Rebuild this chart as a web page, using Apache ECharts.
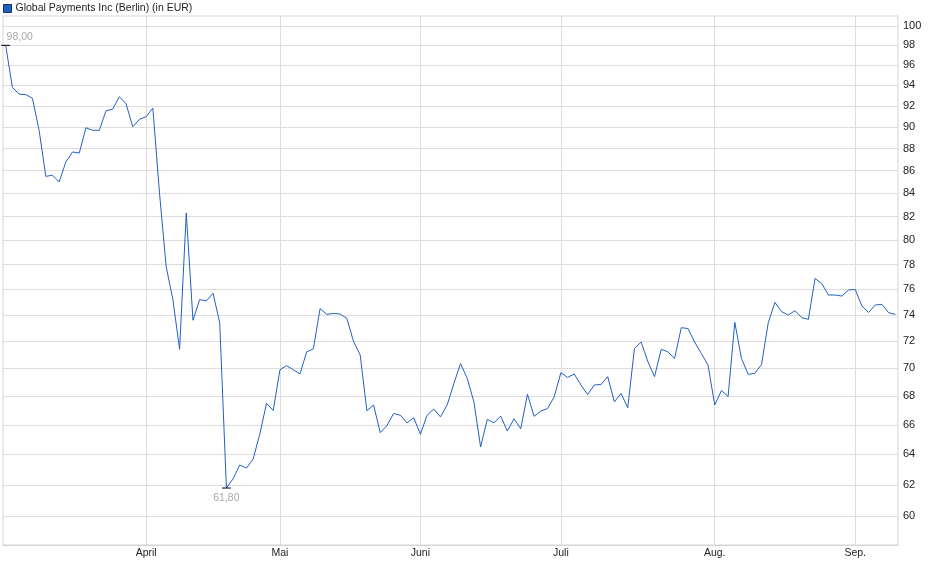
<!DOCTYPE html>
<html>
<head>
<meta charset="utf-8">
<script src="https://cdn.jsdelivr.net/npm/echarts@6/dist/echarts.min.js"></script>
<style>
    html, body { margin: 0; padding: 0; background: #fff; }
    #chart { width: 940px; height: 579px; }
</style>
</head>
<body>
<div id="chart"></div>
<script>
var seriesName = 'Global Payments Inc (Berlin) (in EUR)';

// daily closes, one per trading day (3 Mar .. 9 Sep)
var prices = [
    98.00, 93.80, 93.15, 93.10, 92.74, 89.70, 85.50, 85.60, 85.00, 86.80,
    87.70, 87.60, 89.94, 89.70, 89.70, 91.55, 91.70, 92.90, 92.20, 90.03,
    90.73, 90.98, 91.80, 84.00, 77.80, 75.20, 71.40, 82.30, 73.60, 75.20,
    75.10, 75.70, 73.40, 61.80, 62.40, 63.30, 63.10, 63.70, 65.40, 67.50,
    67.00, 69.90, 70.20, 69.90, 69.60, 71.22, 71.44, 74.50, 74.05, 74.13,
    74.08, 73.74, 72.00, 70.98, 66.98, 67.38, 65.47, 65.96, 66.79, 66.67,
    66.14, 66.50, 65.36, 66.67, 67.10, 66.55, 67.38, 68.90, 70.35, 69.28,
    67.60, 64.50, 66.38, 66.14, 66.61, 65.58, 66.42, 65.73, 68.14, 66.59,
    66.96, 67.13, 67.95, 69.69, 69.35, 69.59, 68.80, 68.12, 68.80, 68.84,
    69.40, 67.60, 68.20, 67.19, 71.46, 71.95, 70.50, 69.40, 71.41, 71.22,
    70.73, 73.03, 72.97, 71.95, 71.10, 70.24, 67.38, 68.40, 67.98, 73.44,
    70.73, 69.57, 69.64, 70.29, 73.40, 74.98, 74.26, 74.00, 74.34, 73.80,
    73.67, 76.87, 76.47, 75.56, 75.56, 75.48, 75.95, 76.00, 74.70, 74.20,
    74.78, 74.83, 74.18, 74.05
];

// first trading day of each month (index into prices)
var monthIndex = [21, 41, 62, 83, 106, 127];
var monthLabels = ['April', 'Mai', 'Juni', 'Juli', 'Aug.', 'Sep.'];

var yTicks = [60, 62, 64, 66, 68, 70, 72, 74, 76, 78, 80, 82, 84, 86, 88, 90, 92, 94, 96, 98, 100];

var chart = echarts.init(document.getElementById('chart'));

function priceFormatter(params) {
    return params.value.toFixed(2).replace('.', ',');
}

var option = {
    animation: false,
    textStyle: { fontFamily: 'Liberation Sans, Arial, sans-serif' },
    legend: {
        data: [seriesName],
        left: 3,
        top: 3,
        padding: 0,
        icon: 'rect',
        itemWidth: 8,
        itemHeight: 8,
        itemStyle: { borderColor: '#1a2f66', borderWidth: 1 },
        textStyle: { fontSize: 10.5, color: '#222', padding: [0, 0, 0, -1] }
    },
    grid: {
        left: 3,
        right: 42,
        top: 16,
        bottom: 34,
        show: true,
        borderColor: '#d4d4d4',
        borderWidth: 1
    },
    xAxis: {
        type: 'value',
        min: -0.4,
        max: 133.4,
        axisLine: { show: true, lineStyle: { color: '#d4d4d4' } },
        axisTick: { show: false, customValues: monthIndex },
        axisLabel: {
            customValues: monthIndex,
            formatter: function (v) { return monthLabels[monthIndex.indexOf(v)]; },
            margin: 3,
            fontSize: 10.5,
            color: '#222'
        },
        splitLine: { show: true, lineStyle: { color: '#dcdcdc' } }
    },
    yAxis: {
        type: 'log',
        position: 'right',
        min: 58.24,
        max: 101.04,
        axisLine: { show: false },
        axisTick: { show: false, customValues: yTicks },
        axisLabel: {
            customValues: yTicks,
            margin: 5,
            fontSize: 11,
            color: '#222'
        },
        splitLine: { show: true, lineStyle: { color: '#dcdcdc' } }
    },
    series: [
        {
            name: seriesName,
            type: 'line',
            data: prices.map(function (v, i) { return [i, v]; }),
            symbol: 'none',
            color: '#1f5fc8',
            lineStyle: { width: 1, color: '#1f5fc8' },
            markPoint: {
                symbol: 'rect',
                symbolSize: [9, 1],
                itemStyle: { color: '#000' },
                label: { formatter: priceFormatter, fontSize: 10.5, color: '#a8a8a8' },
                data: [
                    { type: 'max', label: { position: 'top', offset: [14, 3] } },
                    { type: 'min', label: { position: 'bottom', offset: [0, -1] } }
                ]
            }
        }
    ]
};

chart.setOption(option);
</script>
</body>
</html>
